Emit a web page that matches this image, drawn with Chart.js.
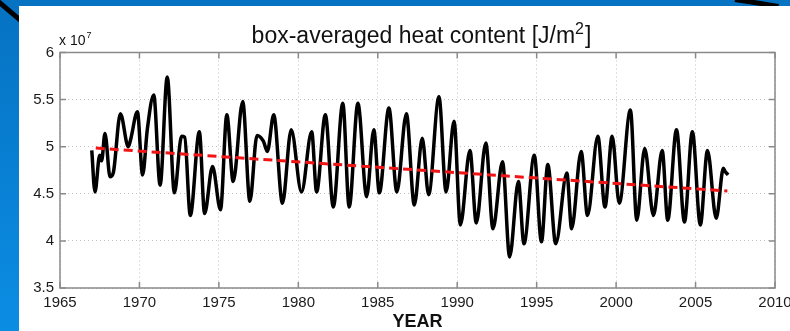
<!DOCTYPE html>
<html>
<head>
<meta charset="utf-8">
<title>box-averaged heat content</title>
<script src="https://cdn.jsdelivr.net/npm/chart.js@4.4.1/dist/chart.umd.min.js"></script>
<style>
  html, body { margin: 0; padding: 0; width: 790px; height: 331px; overflow: hidden; }
  body { position: relative; background: linear-gradient(to bottom, #0672c2, #0b8de4); }
  .streak { position: absolute; height: 5px; background: #000; transform-origin: 0 50%; }
  #panel { position: absolute; left: 19px; top: 6px; right: 0; bottom: 0; background: #fff; }
  #heatCanvas { position: absolute; left: 0; top: 0; }
</style>
</head>
<body>
<div class="streak" style="left:-3px; top:-2px; width:32px; transform:rotate(40deg);"></div>
<div class="streak" style="left:735px; top:-3px; width:44px; transform:rotate(9deg);"></div>
<div id="panel"></div>
<canvas id="heatCanvas" width="790" height="331"></canvas>
<script>
// values in units of 1e7 J/m^2 (peaks / troughs)
const heatYears = [
  1967.0, 1967.2, 1967.5, 1967.62, 1967.83, 1968.15, 1968.35, 1968.8, 1969.3, 1969.45,
  1969.87, 1970.2, 1970.5, 1970.9, 1971.3, 1971.75, 1972.2, 1972.65, 1972.85, 1973.2,
  1973.77, 1974.1, 1974.6, 1975.1, 1975.5, 1975.9, 1976.5, 1976.95, 1977.4, 1977.8,
  1978.05, 1978.45, 1979.0, 1979.55, 1980.2, 1980.84, 1981.15, 1981.7, 1982.2, 1982.8,
  1983.2, 1983.75, 1984.3, 1984.75, 1985.1, 1985.7, 1986.2, 1986.8, 1987.3, 1987.8,
  1988.2, 1988.85, 1989.3, 1989.8, 1990.2, 1990.8, 1991.2, 1991.8, 1992.25, 1992.85,
  1993.3, 1993.85, 1994.2, 1994.85, 1995.3, 1995.7, 1996.2, 1996.9, 1997.2, 1997.8,
  1998.2, 1998.85, 1999.3, 1999.75, 2000.2, 2000.9, 2001.3, 2001.8, 2002.35, 2002.9,
  2003.25, 2003.8, 2004.3, 2004.8, 2005.3, 2005.75, 2006.3, 2006.75, 2006.85, 2007.05
];
const heatValues = [
  4.96, 4.52, 4.91, 4.85, 5.14, 4.68, 4.72, 5.35, 5.00, 5.08,
  5.37, 4.70, 5.19, 5.55, 4.59, 5.74, 4.51, 5.11, 5.10, 4.27,
  5.16, 4.29, 4.79, 4.33, 5.34, 4.63, 5.48, 4.42, 5.12, 5.06,
  4.95, 5.34, 4.40, 5.18, 4.52, 5.16, 4.52, 5.34, 4.36, 5.46,
  4.36, 5.46, 4.47, 5.18, 4.51, 5.41, 4.52, 5.35, 4.38, 5.09,
  4.49, 5.53, 4.52, 5.27, 4.17, 4.96, 4.19, 5.04, 4.13, 4.84,
  3.83, 4.63, 3.97, 4.91, 3.99, 4.81, 3.97, 4.72, 4.13, 4.95,
  4.27, 5.11, 4.36, 5.11, 4.40, 5.39, 4.22, 4.98, 4.27, 4.96,
  4.22, 5.18, 4.20, 5.16, 4.17, 4.96, 4.24, 4.77, 4.74, 4.70
];
const trendYears = [1967.25, 2007.0];
const trendValues = [4.985, 4.53];

const xTicks = [1965, 1970, 1975, 1980, 1985, 1990, 1995, 2000, 2005, 2010];
const yTicks = [3.5, 4, 4.5, 5, 5.5, 6];

const FONT = "'Liberation Sans', Arial, Helvetica, sans-serif";

const toPoints = (xs, ys) => xs.map((x, i) => ({ x: x, y: ys[i] }));

// Matlab style box, inward ticks, title and the "x 10^7" exponent
const matlabAxes = {
  id: "matlabAxes",
  beforeDatasetsDraw(chart) {
    const { ctx, chartArea: a, scales } = chart;
    const tl = 6;
    ctx.save();
    ctx.strokeStyle = "#8a8a8a";
    ctx.lineWidth = 1.5;
    ctx.beginPath();
    xTicks.forEach((v) => {
      const px = scales.x.getPixelForValue(v);
      ctx.moveTo(px, a.bottom);
      ctx.lineTo(px, a.bottom - tl);
      ctx.moveTo(px, a.top);
      ctx.lineTo(px, a.top + tl);
    });
    yTicks.forEach((v) => {
      const py = scales.y.getPixelForValue(v);
      ctx.moveTo(a.left, py);
      ctx.lineTo(a.left + tl, py);
      ctx.moveTo(a.right, py);
      ctx.lineTo(a.right - tl, py);
    });
    ctx.stroke();
    ctx.strokeRect(a.left, a.top, a.right - a.left, a.bottom - a.top);
    ctx.restore();
  },
  afterDraw(chart) {
    const { ctx, chartArea: a } = chart;
    ctx.save();
    ctx.fillStyle = "#111";
    ctx.textBaseline = "alphabetic";

    // title, with a Matlab-like full size superscript
    const t1 = "box-averaged heat content [J/m";
    const t2 = "2";
    const t3 = "]";
    ctx.font = "23px " + FONT;
    const w1 = ctx.measureText(t1).width;
    const w3 = ctx.measureText(t3).width;
    ctx.font = "16px " + FONT;
    const w2 = ctx.measureText(t2).width;
    let tx = (a.left + a.right) / 2 + 4 - (w1 + w2 + w3 + 1) / 2;
    ctx.textAlign = "left";
    ctx.font = "23px " + FONT;
    ctx.fillText(t1, tx, 43);
    ctx.font = "16px " + FONT;
    ctx.fillText(t2, tx + w1, 34);
    ctx.font = "23px " + FONT;
    ctx.fillText(t3, tx + w1 + w2 + 1, 43);

    // exponent label above the y axis
    ctx.font = "14px " + FONT;
    const base = "x 10";
    ctx.fillText(base, a.left - 1, a.top - 8);
    const w = ctx.measureText(base).width;
    ctx.font = "9px " + FONT;
    ctx.fillText("7", a.left + w, a.top - 15);
    ctx.restore();
  },
};

const tickFont = { family: FONT, size: 15 };

const chart = new Chart(document.getElementById("heatCanvas"), {
  type: "line",
  data: {
    datasets: [
      {
        label: "trend",
        data: toPoints(trendYears, trendValues),
        borderColor: "#f01414",
        borderWidth: 3,
        borderDash: [9, 5],
        pointRadius: 0,
        order: 0,
      },
      {
        label: "heat content",
        data: toPoints(heatYears, heatValues),
        borderColor: "#000",
        borderWidth: 3.5,
        cubicInterpolationMode: "monotone",
        pointRadius: 0,
        order: 1,
      },
    ],
  },
  options: {
    responsive: false,
    animation: false,
    layout: { padding: { left: 0, right: 15, top: 52.5, bottom: 0 } },
    plugins: {
      legend: { display: false },
      tooltip: { enabled: false },
      title: { display: false },
    },
    scales: {
      x: {
        type: "linear",
        min: 1965,
        max: 2010,
        afterBuildTicks: (s) => { s.ticks = xTicks.map((v) => ({ value: v })); },
        afterFit: (s) => { s.height = 43; s.paddingLeft = 0; s.paddingRight = 0; },
        ticks: {
          callback: (v) => String(v),
          font: tickFont,
          color: "#1a1a1a",
          padding: 6,
          maxRotation: 0,
          autoSkip: false,
        },
        grid: { color: "#c2c2c2", lineWidth: 1, drawTicks: false },
        border: { display: false, dash: [1, 3] },
        title: {
          display: true,
          text: "YEAR",
          color: "#111",
          font: { family: FONT, size: 18, weight: "bold", lineHeight: 1 },
          padding: { top: 0, bottom: 0 },
        },
      },
      y: {
        min: 3.5,
        max: 6,
        afterBuildTicks: (s) => { s.ticks = yTicks.map((v) => ({ value: v })); },
        afterFit: (s) => { s.width = 60; s.paddingTop = 0; s.paddingBottom = 0; },
        ticks: {
          callback: (v) => String(v),
          font: tickFont,
          color: "#1a1a1a",
          padding: 6,
        },
        grid: { color: "#c2c2c2", lineWidth: 1, drawTicks: false },
        border: { display: false, dash: [1, 3] },
      },
    },
  },
  plugins: [matlabAxes],
});
</script>
</body>
</html>
